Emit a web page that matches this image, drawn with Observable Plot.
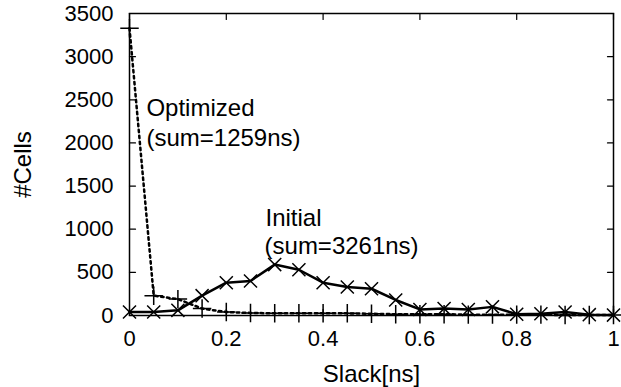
<!DOCTYPE html>
<html><head><meta charset="utf-8">
<script src="https://cdn.jsdelivr.net/npm/d3@7"></script>
<script src="https://cdn.jsdelivr.net/npm/@observablehq/plot@0.6"></script>
<style>
body{margin:0;background:#fff}
svg{font-family:"Liberation Sans",Arial,sans-serif}
g[aria-label="x-axis label"] text, g[aria-label="y-axis label"] text{font-size:24px}
</style>
</head><body><div id="chart"></div>
<script>
const slack = [0,0.05,0.1,0.15,0.2,0.25,0.3,0.35,0.4,0.45,0.5,0.55,0.6,0.65,0.7,0.75,0.8,0.85,0.9,0.95,1];
const initialCells = [40,40,60,230,380,400,590,530,380,330,310,180,70,80,70,100,15,20,40,10,5];
const optimizedCells = [3330,230,190,80,40,30,25,25,25,25,20,15,15,15,10,10,10,10,5,5,5];
const xTicks = [0,0.2,0.4,0.6,0.8,1];
const yTicks = [0,500,1000,1500,2000,2500,3000,3500];
const annotations = [
  {x:0.035, y:2317, text:"Optimized"},
  {x:0.035, y:1970, text:"(sum=1259ns)"},
  {x:0.281, y:1035, text:"Initial"},
  {x:0.279, y:718, text:"(sum=3261ns)"}
];

const initial = slack.map((s,i)=>({slack:s, cells:initialCells[i]}));
const optimized = slack.map((s,i)=>({slack:s, cells:optimizedCells[i]}));

const tickShape = {draw(context, l){ context.moveTo(0,0); context.lineTo(0,-l); }};
const inward = (data, chan, anchor, rotate) => Plot.vector(data, {[chan]: d=>d, frameAnchor:anchor, rotate, length:6, anchor:"start", shape:tickShape, stroke:"#000", strokeWidth:1.2});

const chart = Plot.plot({
  width: 621, height: 387,
  marginLeft: 129, marginRight: 8, marginTop: 13, marginBottom: 72,
  style: {fontFamily: '"Liberation Sans", Arial, sans-serif', fontSize: "22px", color: "#000", background: "#fff"},
  x: {domain: [0,1]},
  y: {domain: [0,3500]},
  marks: [
    Plot.axisX({anchor:"bottom", ticks:xTicks, tickSize:0, tickPadding:15, tickFormat:d=>String(d), label:"Slack[ns]", labelAnchor:"center", labelArrow:"none", labelOffset:66, fontSize:22}),
    Plot.axisY({anchor:"left", ticks:yTicks, tickSize:0, tickPadding:16, tickFormat:d=>String(d), label:"#Cells", labelAnchor:"center", labelArrow:"none", labelOffset:116, fontSize:22}),
    inward(xTicks, "x", "bottom", 0),
    inward(xTicks, "x", "top", 180),
    inward(yTicks, "y", "left", 90),
    inward(yTicks, "y", "right", -90),
    Plot.frame({strokeWidth:1.5}),
    Plot.line(optimized, {x:"slack", y:"cells", stroke:"#000", strokeWidth:2.5, strokeDasharray:"2.5,3.5"}),
    Plot.dot(optimized, {x:"slack", y:"cells", symbol:"plus", stroke:"#000", strokeWidth:1.5, r:6}),
    Plot.line(initial, {x:"slack", y:"cells", stroke:"#000", strokeWidth:2.5}),
    Plot.dot(initial, {x:"slack", y:"cells", symbol:"times", stroke:"#000", strokeWidth:1.5, r:6}),
    Plot.text(annotations, {x:"x", y:"y", text:"text", textAnchor:"start", lineAnchor:"bottom", fontSize:24, fill:"#000"})
  ]
});
document.getElementById("chart").appendChild(chart);
</script>
</body></html>
